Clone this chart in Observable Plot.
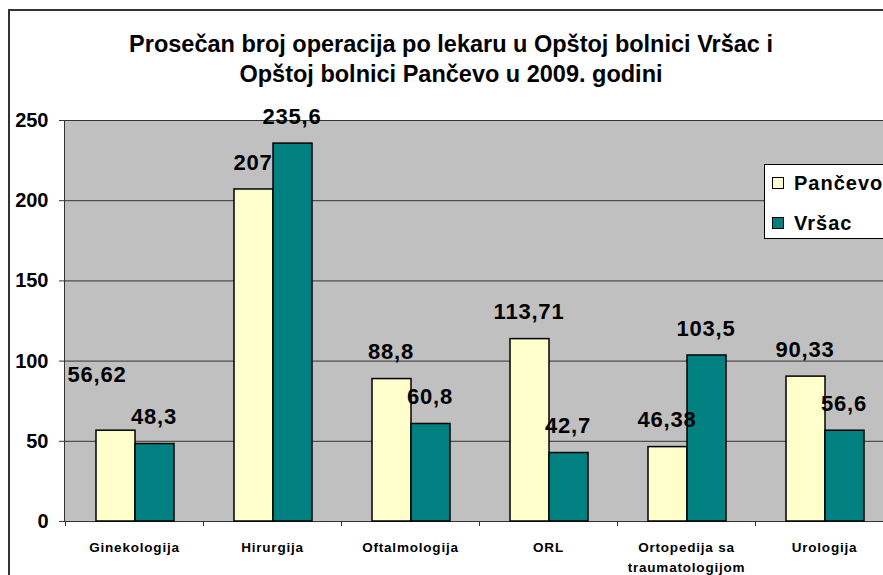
<!DOCTYPE html>
<html><head><meta charset="utf-8">
<script src="https://cdn.jsdelivr.net/npm/d3@7"></script>
<script src="https://cdn.jsdelivr.net/npm/@observablehq/plot@0.6"></script>
<style>
body{margin:0;background:#fff;font-family:"Liberation Sans",Arial,sans-serif;}
#wrap{position:relative;width:883px;height:575px;overflow:hidden;background:#fff;}
#chart{position:absolute;left:0;top:0;width:893px;}
#chart svg{max-width:none !important;}
#border{position:absolute;left:8px;top:9px;width:2000px;height:2000px;border-left:2px solid #333;border-top:2px solid #333;pointer-events:none;}
#title{position:absolute;left:0;top:29px;width:902px;text-align:center;font-weight:bold;font-size:23.5px;line-height:30px;color:#000;}
#legend{position:absolute;left:764px;top:164px;width:160px;height:75px;background:#fff;border:1px solid #000;box-sizing:border-box;}
.item{position:absolute;left:7px;height:24px;display:flex;align-items:center;font-weight:bold;font-size:20px;letter-spacing:1px;color:#000;}
.sw{width:10px;height:10px;border:1px solid #000;margin-right:10px;}
#chart svg text{font-family:"Liberation Sans",Arial,sans-serif;}
#chart g[aria-label="text"] text{letter-spacing:0.8px;}
#chart g[aria-label="x-axis tick label"] text{letter-spacing:0.8px;}
</style></head>
<body>
<div id="wrap">
  <div id="chart"></div>
  <div id="title"></div>
  <div id="legend"></div>
  <div id="border"></div>
</div>
<script>
const titleLines = ["Prosečan broj operacija po lekaru u Opštoj bolnici Vršac i", "Opštoj bolnici Pančevo u 2009. godini"];
const categories = ["Ginekologija", "Hirurgija", "Oftalmologija", "ORL", "Ortopedija sa traumatologijom", "Urologija"];
const tickLabels = ["Ginekologija", "Hirurgija", "Oftalmologija", "ORL", "Ortopedija sa\ntraumatologijom", "Urologija"];
const seriesNames = ["Pančevo", "Vršac"];
const pancevo = [56.62, 207, 88.8, 113.71, 46.38, 90.33];
const vrsac = [48.3, 235.6, 60.8, 42.7, 103.5, 56.6];
const yTicks = [0, 50, 100, 150, 200, 250];

const colors = {"Pančevo": "#FFFFCC", "Vršac": "#008080"};
const fmt = v => String(v).replace(".", ",");

const rows = categories.flatMap((c, i) => [
  {category: c, series: "Pančevo", value: pancevo[i]},
  {category: c, series: "Vršac", value: vrsac[i]}
]);
const P = rows.filter(d => d.series === "Pančevo");
const V = rows.filter(d => d.series === "Vršac");
// label placement exception (as in the original chart)
const isMoved = d => d.category === "Ginekologija" && d.series === "Pančevo";

const W = 893, H = 575, mL = 64, mT = 120, mB = 54;
const band = (W - mL) / categories.length;

const chart = Plot.plot({
  width: W, height: H,
  marginLeft: mL, marginRight: 0, marginTop: mT, marginBottom: mB,
  style: {background: "transparent", overflow: "visible", color: "#000", maxWidth: "none"},
  x: {domain: categories, padding: 0, axis: null},
  y: {domain: [0, 250], axis: null},
  marks: [
    Plot.frame({fill: "#C0C0C0"}),
    Plot.ruleY(yTicks, {stroke: "#333", strokeWidth: 1}),
    Plot.frame({stroke: "#333", strokeWidth: 1}),
    Plot.barY(categories, {x: d => d, y1: 0, y2: 0, insetRight: band - 1.2, insetBottom: -5, fill: "#333"}),
    Plot.barY(P, {x: "category", y: "value", fill: colors["Pančevo"], stroke: "#000", strokeWidth: 1.5, insetLeft: 31, insetRight: 68}),
    Plot.barY(V, {x: "category", y: "value", fill: colors["Vršac"], stroke: "#000", strokeWidth: 1.5, insetLeft: 70, insetRight: 29}),
    Plot.text(P.filter(d => !isMoved(d)), {x: "category", y: "value", text: d => fmt(d.value), dx: -19.5, dy: -27, fontSize: 22, fontWeight: "bold", fill: "#000"}),
    Plot.text(P.filter(isMoved), {x: "category", y: "value", text: d => fmt(d.value), dx: -37.5, dy: -56, fontSize: 22, fontWeight: "bold", fill: "#000"}),
    Plot.text(V, {x: "category", y: "value", text: d => fmt(d.value), dx: 19.5, dy: -27, fontSize: 22, fontWeight: "bold", fill: "#000"}),
    Plot.axisY({ticks: yTicks, tickSize: 5, tickPadding: 11, fontSize: 20, fontWeight: "bold", tickFormat: d => String(d), label: null, stroke: "#333"}),
    Plot.axisX({tickSize: 0, tickPadding: 16, fontSize: 13.5, fontWeight: "bold", lineHeight: 1.5, tickFormat: c => tickLabels[categories.indexOf(c)], label: null})
  ]
});
document.getElementById("chart").appendChild(chart);

document.getElementById("title").innerHTML = titleLines.join("<br>");

const legend = document.getElementById("legend");
seriesNames.forEach((s, i) => {
  const it = document.createElement("div");
  it.className = "item";
  it.style.top = (6 + i * 40) + "px";
  const sw = document.createElement("div");
  sw.className = "sw";
  sw.style.background = colors[s];
  const t = document.createElement("span");
  t.textContent = s;
  it.appendChild(sw); it.appendChild(t);
  legend.appendChild(it);
});
</script>
</body></html>
